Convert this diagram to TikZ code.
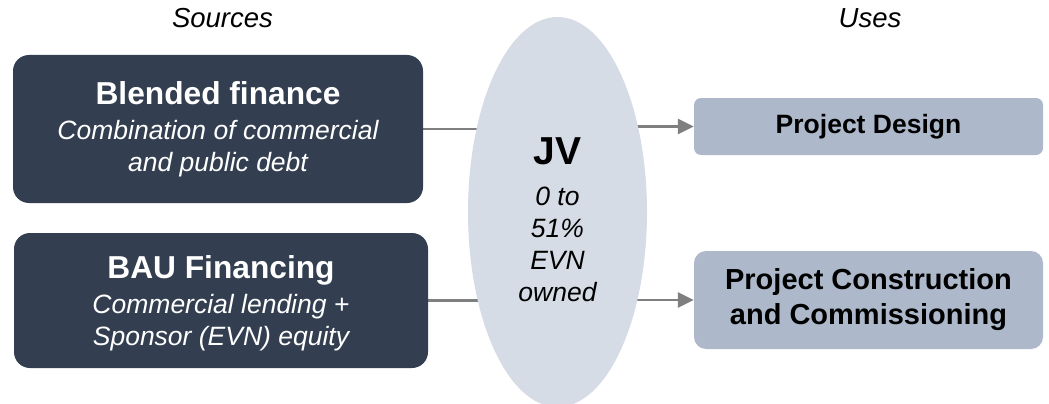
\documentclass[tikz,border=0pt]{standalone}
\usepackage{fontspec}
\setmainfont{Liberation Sans}
\usetikzlibrary{shapes,arrows.meta,positioning,backgrounds}
\usepackage{xcolor}
\definecolor{srcdark}{RGB}{51,63,80}
\definecolor{jvgray}{RGB}{214,220,229}
\definecolor{usegray}{RGB}{173,185,202}
\definecolor{linegray}{RGB}{127,127,127}

\begin{document}
\begin{tikzpicture}[
    x=1pt, y=-1pt,
    source/.style={rectangle, rounded corners=16pt, fill=srcdark, text=white, align=center,
                   inner sep=0pt, font=\fontsize{26.5}{32}\selectfont\itshape},
    use/.style={rectangle, fill=usegray, align=center, inner sep=0pt},
    heading/.style={anchor=base, font=\fontsize{27.5}{32}\selectfont\itshape},
    link/.style={line width=2.5pt, color=linegray},
]
\useasboundingbox (0,0) rectangle (1049,404);

% Column headings
\node[heading] (srchead) at (222.5,28) {Sources};
\node[heading] (usehead) at (870,28) {Uses};

% Sources
\node[source, minimum width=410, minimum height=148] (blended) at (218,129)
    {{\fontsize{31.7}{38}\selectfont\bfseries\upshape Blended finance}\\[3pt]
     Combination of commercial\\ and public debt};
\node[source, minimum width=414, minimum height=135] (bau) at (221,300.5)
    {{\fontsize{31.7}{38}\selectfont\bfseries\upshape\rule{0pt}{29pt}BAU Financing}\\[3pt]
     Commercial lending +\\ Sponsor (EVN) equity};

% JV in the middle
\node[ellipse, fill=jvgray, inner sep=0pt, minimum width=179, minimum height=390, align=center,
      font=\fontsize{26.5}{32}\selectfont\itshape] (jv) at (557.5,212)
    {{\fontsize{39}{40}\selectfont\bfseries\upshape\rule{0pt}{42pt}JV}\\[9pt] 0 to\\ 51\%\\ EVN\\ owned};

% Uses
\node[use, rounded corners=7pt, minimum width=349, minimum height=57,
      font=\fontsize{26.5}{32}\selectfont\bfseries] (design) at (868.5,126.5) {Project Design};
\node[use, rounded corners=12pt, minimum width=349, minimum height=98,
      font=\fontsize{29}{35}\selectfont\bfseries] (constr) at (868.5,300)
    {Project Construction\\ and Commissioning};

\begin{scope}[on background layer]
\draw[link] (blended.east) -- (blended.east -| jv.center);
\draw[link] (bau.east) -- (bau.east -| jv.center);
\draw[link, -{Triangle[length=16pt, width=15pt]}] (design.west -| jv.center) -- (design.west);
\draw[link, -{Triangle[length=16pt, width=15pt]}] (constr.west -| jv.center) -- (constr.west);
\end{scope}

\end{tikzpicture}
\end{document}
